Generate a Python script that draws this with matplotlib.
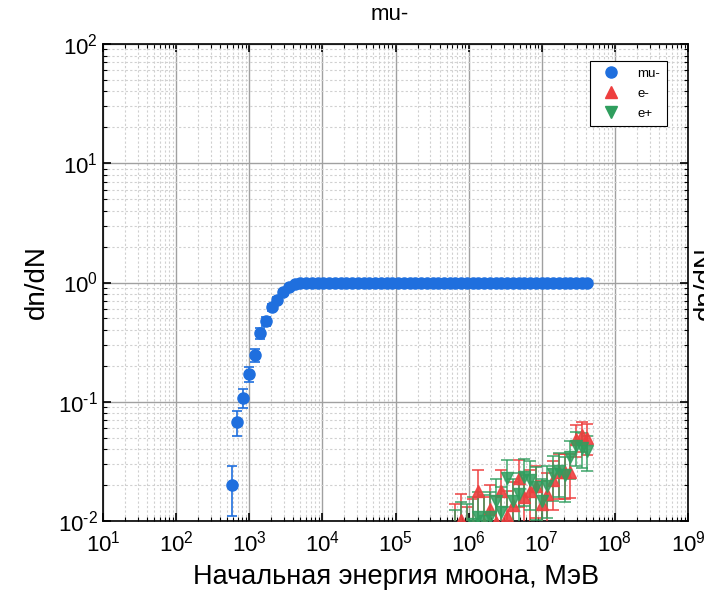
import math

import matplotlib

matplotlib.use("Agg")
import matplotlib.pyplot as plt
from matplotlib.lines import Line2D
from matplotlib.ticker import FuncFormatter, LogLocator, NullFormatter

plt.rcParams["font.family"] = ["Liberation Sans", "DejaVu Sans"]
plt.rcParams["mathtext.fontset"] = "custom"
plt.rcParams["mathtext.rm"] = "Liberation Sans"
plt.rcParams["mathtext.it"] = "Liberation Sans:italic"
plt.rcParams["mathtext.bf"] = "Liberation Sans:bold"
plt.rcParams["axes.unicode_minus"] = False

# energy bins (log10 of MeV), shared by all particles
log_energy = [
    2.758, 2.837, 2.915, 2.994, 3.072, 3.151, 3.229, 3.308, 3.386, 3.465,
    3.543, 3.622, 3.700, 3.779, 3.857, 3.936, 4.014, 4.093, 4.171, 4.250,
    4.328, 4.407, 4.485, 4.564, 4.642, 4.721, 4.799, 4.878, 4.956, 5.035,
    5.113, 5.192, 5.270, 5.349, 5.427, 5.506, 5.584, 5.663, 5.741, 5.820,
    5.898, 5.977, 6.055, 6.134, 6.212, 6.291, 6.369, 6.448, 6.526, 6.605,
    6.683, 6.762, 6.840, 6.919, 6.997, 7.076, 7.154, 7.233, 7.311, 7.390,
    7.468, 7.547, 7.625,
]
energy = [10 ** v for v in log_energy]

mu_minus = [
    0.020, 0.068, 0.108, 0.172, 0.245, 0.379, 0.472, 0.620, 0.720, 0.840,
    0.920, 0.965, 0.990, 1.0, 1.0, 1.0, 1.0, 1.0, 1.0, 1.0,
    1.0, 1.0, 1.0, 1.0, 1.0, 1.0, 1.0, 1.0, 1.0, 1.0,
    1.0, 1.0, 1.0, 1.0, 1.0, 1.0, 1.0, 1.0, 1.0, 1.0,
    1.0, 1.0, 1.0, 1.0, 1.0, 1.0, 1.0, 1.0, 1.0, 1.0,
    1.0, 1.0, 1.0, 1.0, 1.0, 1.0, 1.0, 1.0, 1.0, 1.0,
    1.0, 1.0, 1.0,
]
mu_minus_err = [
    0.009, 0.016, 0.020, 0.025, 0.030, 0.040, 0.040, 0.040, 0.035, 0.030,
    0.020, 0.012, 0.006, 0, 0, 0, 0, 0, 0, 0,
    0, 0, 0, 0, 0, 0, 0, 0, 0, 0,
    0, 0, 0, 0, 0, 0, 0, 0, 0, 0,
    0, 0, 0, 0, 0, 0, 0, 0, 0, 0,
    0, 0, 0, 0, 0, 0, 0, 0, 0, 0,
    0, 0, 0,
]

# secondaries appear from bin 39 onward
e_start = 39
e_minus = [
    0.0080, 0.0102, 0.0075, 0.0090, 0.0180, 0.0095, 0.0127, 0.0098,
    0.0180, 0.0110, 0.0135, 0.0229, 0.0160, 0.0180, 0.0197, 0.0140,
    0.0170, 0.0220, 0.0258, 0.0258, 0.0260, 0.0490, 0.0530, 0.0500,
]
e_minus_err = [
    0.0058, 0.0066, 0.0056, 0.0062, 0.0087, 0.0063, 0.0073, 0.0064,
    0.0087, 0.0068, 0.0076, 0.0098, 0.0082, 0.0087, 0.0091, 0.0077,
    0.0085, 0.0096, 0.0104, 0.0104, 0.0105, 0.0144, 0.0150, 0.0145,
]
e_plus = [
    0.0070, 0.0085, 0.0080, 0.0095, 0.0107, 0.0100, 0.0108, 0.0148,
    0.0120, 0.0229, 0.0148, 0.0170, 0.0232, 0.0220, 0.0192, 0.0148,
    0.0197, 0.0250, 0.0264, 0.0245, 0.0347, 0.0425, 0.0410, 0.0390,
]
e_plus_err = [
    0.0054, 0.0060, 0.0058, 0.0063, 0.0067, 0.0065, 0.0068, 0.0079,
    0.0071, 0.0098, 0.0079, 0.0085, 0.0099, 0.0096, 0.0090, 0.0079,
    0.0091, 0.0103, 0.0106, 0.0102, 0.0121, 0.0134, 0.0132, 0.0128,
]

BLUE = "#1f6fde"
RED = "#ee3f3f"
GREEN = "#2f9e5e"


def pow10_label(value, _pos):
    # keep a plain hyphen in negative exponents, as in the original
    exp = int(round(math.log10(value)))
    return r"$\mathregular{10^{\text{" + str(exp) + r"}}}$"


fig = plt.figure(figsize=(7.04, 6.03), dpi=100)
ax = fig.add_axes([0.1463, 0.136, 0.831, 0.791])

e_energy = energy[e_start:]
ax.errorbar(
    e_energy, e_minus, yerr=e_minus_err, fmt="^", color=RED, ms=8.5,
    ecolor=RED, elinewidth=1.2, capsize=4, capthick=1.2, alpha=0.9,
    zorder=3,
)
ax.errorbar(
    e_energy, e_plus, yerr=e_plus_err, fmt="v", color=GREEN, ms=8.5,
    ecolor=GREEN, elinewidth=1.2, capsize=4, capthick=1.2, alpha=0.85,
    zorder=3,
)
ax.errorbar(
    energy, mu_minus, yerr=mu_minus_err, fmt="o", color=BLUE, ms=8,
    ecolor=BLUE, elinewidth=1.2, capsize=3.5, capthick=1.2, zorder=4,
)

ax.set_xscale("log")
ax.set_yscale("log")
ax.set_xlim(1e1, 1e9)
ax.set_ylim(1e-2, 1e2)

ax.xaxis.set_major_locator(LogLocator(base=10, numticks=20))
ax.yaxis.set_major_locator(LogLocator(base=10, numticks=20))
ax.xaxis.set_minor_locator(LogLocator(base=10, subs=range(2, 10), numticks=20))
ax.yaxis.set_minor_locator(LogLocator(base=10, subs=range(2, 10), numticks=20))
ax.xaxis.set_major_formatter(FuncFormatter(pow10_label))
ax.yaxis.set_major_formatter(FuncFormatter(pow10_label))
ax.xaxis.set_minor_formatter(NullFormatter())
ax.yaxis.set_minor_formatter(NullFormatter())

ax.grid(which="major", color="#a0a0a0", linestyle="-", linewidth=1.0)
ax.grid(which="minor", color="#d0d0d0", linestyle=(0, (2, 2)), linewidth=0.8)
ax.set_axisbelow(True)

ax.tick_params(which="both", direction="in", top=True, right=True,
               color="black")
ax.tick_params(which="major", length=6, width=1.2, labelsize=16)
ax.tick_params(which="minor", length=3, width=0.8)
ax.tick_params(axis="x", pad=7)
for spine in ax.spines.values():
    spine.set_linewidth(1.2)

ax.set_xlabel("Начальная энергия мюона, МэВ", fontsize=19.5, labelpad=5)
ax.set_ylabel("dn/dN", fontsize=20, labelpad=6)
ax.set_title("mu-", fontsize=16, pad=17, x=0.49)

handles = [
    Line2D([], [], linestyle="none", marker="o", color=BLUE, ms=8),
    Line2D([], [], linestyle="none", marker="^", color=RED, ms=8),
    Line2D([], [], linestyle="none", marker="v", color=GREEN, ms=8),
]
leg = ax.legend(
    handles, ["mu-", "e-", "e+"], loc="upper right",
    bbox_to_anchor=(0.964, 0.965), borderaxespad=0, fontsize=9.5,
    fancybox=False, framealpha=1, edgecolor="black", labelspacing=0.6,
    handletextpad=0.9, borderpad=0.5, handlelength=2.2,
)
leg.get_frame().set_linewidth(0.8)

# label of the neighbouring panel, cut by the figure edge
fig.text(0.984, 0.53, "dn/dN", rotation=90, fontsize=20, ha="left",
         va="center")

fig.savefig("out.png", dpi=100)
